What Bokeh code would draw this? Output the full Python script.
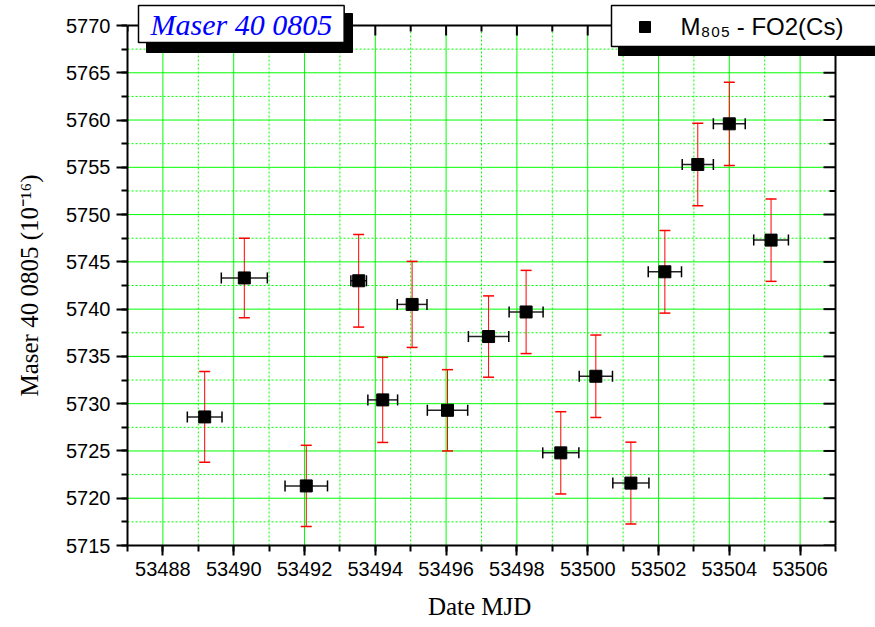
import math
from bokeh.plotting import figure
from bokeh.models import (ColumnDataSource, Whisker, TeeHead, SingleIntervalTicker,
                          Label, Range1d, BasicTickFormatter, BoxAnnotation)
from bokeh.embed import file_html
from bokeh.resources import INLINE

# ---- data ----
mjd = [53489.18, 53490.30, 53492.05, 53493.53, 53494.21, 53495.04, 53496.04, 53497.20,
       53498.26, 53499.24, 53500.23, 53501.22, 53502.18, 53503.11, 53504.00, 53505.18]
freq = [5728.6, 5743.3, 5721.3, 5743.0, 5730.4, 5740.5, 5729.3, 5737.1,
        5739.7, 5724.8, 5732.9, 5721.6, 5743.95, 5755.3, 5759.6, 5747.3]
mjd_err = [0.49, 0.65, 0.60, 0.22, 0.42, 0.42, 0.57, 0.57,
           0.48, 0.51, 0.47, 0.51, 0.47, 0.44, 0.45, 0.49]
freq_err = [4.8, 4.2, 4.3, 4.9, 4.5, 4.55, 4.3, 4.3,
            4.4, 4.35, 4.36, 4.33, 4.37, 4.37, 4.4, 4.36]

x_limits = (53487, 53507)
y_limits = (5715, 5770)
x_major_step = 2
y_major_step = 5

title_text = "Maser 40 0805"
series_label = "M\u2088\u2080\u2085 - FO2(Cs)"
x_title = "Date MJD"
y_title = "Maser 40 0805 (10\u207b\u00b9\u2076)"

# ---- layout (pixels) ----
W, H = 875, 627
LEFT, RIGHT_GAP, TOP_GAP, BOTTOM = 127, 40, 25, 82
plot_w = W - LEFT - RIGHT_GAP          # width of the axes box
plot_h = H - BOTTOM - TOP_GAP          # height of the axes box
frame_w = W - LEFT                      # frame reaches the right and top canvas edges
frame_h = H - BOTTOM

x_end = x_limits[0] + (x_limits[1] - x_limits[0]) * frame_w / plot_w
y_end = y_limits[0] + (y_limits[1] - y_limits[0]) * frame_h / plot_h

src = ColumnDataSource(dict(
    x=mjd, y=freq,
    xlo=[a - b for a, b in zip(mjd, mjd_err)], xhi=[a + b for a, b in zip(mjd, mjd_err)],
    ylo=[a - b for a, b in zip(freq, freq_err)], yhi=[a + b for a, b in zip(freq, freq_err)],
))

p = figure(width=W, height=H, output_backend="svg", toolbar_location=None,
           x_range=Range1d(x_limits[0], x_end), y_range=Range1d(y_limits[0], y_end),
           min_border_left=LEFT, min_border_right=0, min_border_top=0, min_border_bottom=BOTTOM)
p.outline_line_color = None
p.background_fill_color = "white"
p.border_fill_color = "white"
p.xgrid.visible = False
p.ygrid.visible = False

xt = SingleIntervalTicker(interval=x_major_step, num_minor_ticks=2)
yt = SingleIntervalTicker(interval=y_major_step, num_minor_ticks=2)

SANS = "Liberation Sans"
SERIF = "Liberation Serif"
NBSP = "\u00a0"

def style_axis(ax, ticker, tick_len, bounds):
    ax.ticker = ticker
    ax.bounds = bounds
    ax.axis_line_color = "black"
    ax.axis_line_width = 2
    ax.major_tick_line_color = "black"
    ax.major_tick_line_width = 2
    ax.minor_tick_line_color = "black"
    ax.minor_tick_line_width = 2
    ax.major_tick_in = 0
    ax.major_tick_out = tick_len
    ax.minor_tick_in = 0
    ax.minor_tick_out = 6
    ax.formatter = BasicTickFormatter(use_scientific=False)
    ax.major_label_text_font = SANS
    ax.major_label_text_font_size = "20px"
    ax.major_label_text_color = "black"
    ax.major_label_standoff = 6
    ax.axis_label_text_font = SERIF
    ax.axis_label_text_font_style = "normal"
    ax.axis_label_text_font_size = "25px"
    ax.axis_label_text_color = "black"

# the axis titles are centred on the whole frame, which reaches past the axes box;
# trailing no-break spaces shift them back to the centre of the box
style_axis(p.xaxis[0], xt, 10, x_limits)
p.xaxis[0].axis_label = x_title + NBSP * 7
p.xaxis[0].axis_label_standoff = 14
style_axis(p.yaxis[0], yt, 11, y_limits)
p.yaxis[0].axis_label = y_title + NBSP * 4
p.yaxis[0].axis_label_standoff = 20

def tick_values(lo, hi, step):
    first = math.ceil(lo / step) * step
    out = []
    v = first
    while v <= hi + 1e-9:
        out.append(v)
        v += step
    return out

x_major = tick_values(*x_limits, x_major_step)
x_minor = [v for v in tick_values(x_limits[0], x_limits[1], x_major_step / 2) if v not in x_major]
y_major = tick_values(*y_limits, y_major_step)
y_minor = [v for v in tick_values(y_limits[0], y_limits[1], y_major_step / 2) if v not in y_major]

GREEN = "#00ff00"
# grid lines, limited to the axes box
p.segment(x0=x_major, x1=x_major, y0=[y_limits[0]] * len(x_major), y1=[y_limits[1]] * len(x_major),
          line_color=GREEN, line_width=1, level="underlay")
p.segment(x0=x_minor, x1=x_minor, y0=[y_limits[0]] * len(x_minor), y1=[y_limits[1]] * len(x_minor),
          line_color=GREEN, line_width=1, line_dash="2 2", level="underlay")
p.segment(x0=[x_limits[0]] * len(y_major), x1=[x_limits[1]] * len(y_major), y0=y_major, y1=y_major,
          line_color=GREEN, line_width=1, level="underlay")
p.segment(x0=[x_limits[0]] * len(y_minor), x1=[x_limits[1]] * len(y_minor), y0=y_minor, y1=y_minor,
          line_color=GREEN, line_width=1, line_dash="2 2", level="underlay")

# top and right edges of the box, with inward ticks
p.segment(x0=[x_limits[0], x_limits[1]], x1=[x_limits[1], x_limits[1]],
          y0=[y_limits[1], y_limits[0]], y1=[y_limits[1], y_limits[1]],
          line_color="black", line_width=2)
p.ray(x=x_major, y=[y_limits[1]] * len(x_major), length=10, length_units="screen",
      angle=-math.pi / 2, line_color="black", line_width=2)
p.ray(x=x_minor, y=[y_limits[1]] * len(x_minor), length=6, length_units="screen",
      angle=-math.pi / 2, line_color="black", line_width=2)
p.ray(x=[x_limits[1]] * len(y_major), y=y_major, length=12, length_units="screen",
      angle=math.pi, line_color="black", line_width=2)
p.ray(x=[x_limits[1]] * len(y_minor), y=y_minor, length=6, length_units="screen",
      angle=math.pi, line_color="black", line_width=2)

# error bars
yw = Whisker(source=src, base="x", lower="ylo", upper="yhi", dimension="height",
             line_color="red", line_width=1,
             lower_head=TeeHead(size=11, line_color="red", line_width=1.5),
             upper_head=TeeHead(size=11, line_color="red", line_width=1.5))
xw = Whisker(source=src, base="y", lower="xlo", upper="xhi", dimension="width",
             line_color="#222222", line_width=1.5,
             lower_head=TeeHead(size=11, line_color="black", line_width=1.5),
             upper_head=TeeHead(size=11, line_color="black", line_width=1.5))
p.add_layout(yw)
p.add_layout(xw)

p.scatter("x", "y", source=src, marker="square", size=12,
          fill_color="black", line_color="black")

def canvas_box(left, right, top, bottom, color):
    # canvas pixel box -> frame screen units (origin bottom-left of frame)
    return BoxAnnotation(left=left - LEFT, right=right - LEFT,
                         top=frame_h - top, bottom=frame_h - bottom,
                         left_units="screen", right_units="screen",
                         top_units="screen", bottom_units="screen",
                         fill_color=color, fill_alpha=1.0, line_color=color, line_alpha=1.0)

# title box with shadow
p.add_layout(canvas_box(146, 352, 13, 52, "black"))
p.add_layout(Label(x=138 - LEFT, y=frame_h - 5, x_units="screen", y_units="screen", text=title_text,
                   text_font=SERIF, text_font_style="italic", text_font_size="30px",
                   text_color="blue", text_align="left", text_baseline="top",
                   background_fill_color="white", border_line_color="black",
                   border_line_width=1.5,
                   padding=dict(left=12, right=12, top=2, bottom=2)))

# legend box with shadow and marker
p.add_layout(canvas_box(618, 900, 13, 55, "black"))
p.add_layout(Label(x=611 - LEFT, y=frame_h - 5, x_units="screen", y_units="screen", text=series_label,
                   text_font=SANS, text_font_size="24px", text_color="black",
                   text_align="left", text_baseline="top",
                   background_fill_color="white", border_line_color="black",
                   border_line_width=1.5,
                   padding=dict(left=69, right=90, top=7, bottom=7)))
p.add_layout(canvas_box(639, 650, 21, 32, "black"))

open("out.html", "w").write(file_html(p, INLINE))
